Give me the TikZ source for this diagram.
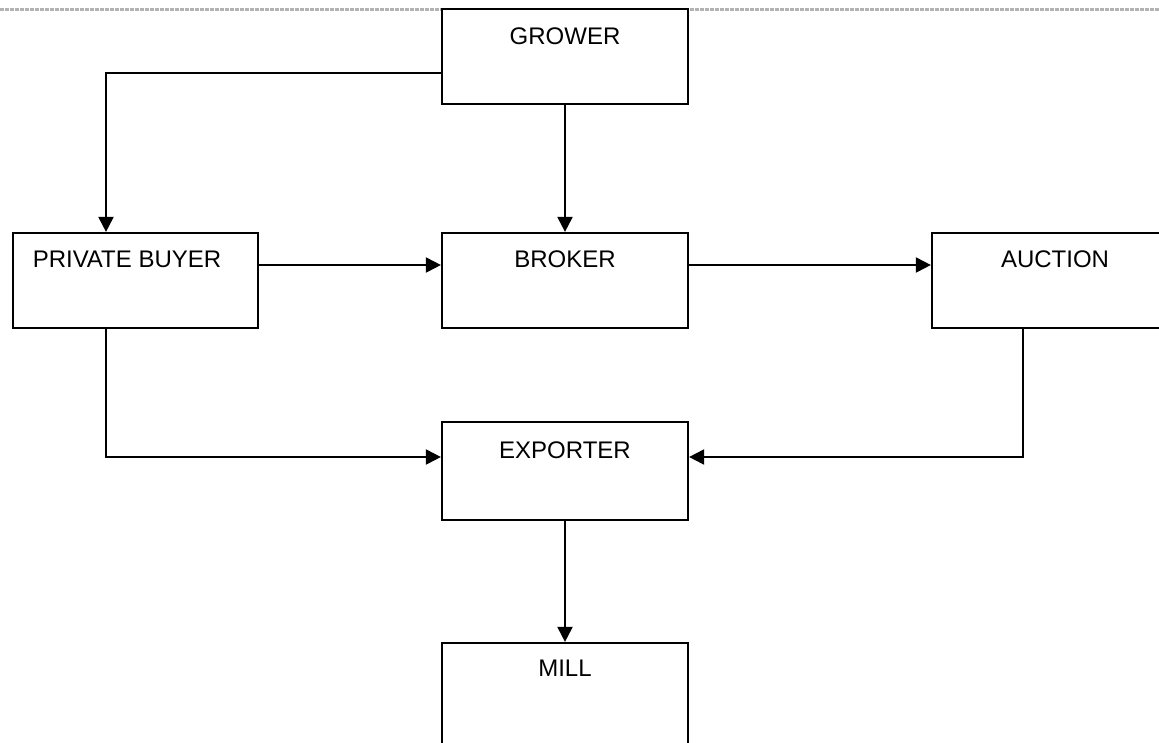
\documentclass[tikz,border=0pt]{standalone}
\usepackage{fontspec}
\setmainfont{Liberation Sans}
\usetikzlibrary{arrows.meta,calc}
\begin{document}
\begin{tikzpicture}[x=1pt,y=-1pt,
  box/.style={draw=black,line width=2.2pt,minimum width=246pt,minimum height=95pt,inner sep=0pt,fill=white},
  lbl/.style={font=\fontsize{24}{28}\selectfont,inner sep=0pt,anchor=center},
  conn/.style={draw=black,line width=2pt,-{Triangle[length=15pt,width=15pt]}}]
\useasboundingbox (0,0) rectangle (1159,742);
\clip (0,0) rectangle (1159,742);
\draw[gray!60,line width=2.2pt,dash pattern=on 3.5pt off 1.5pt] (0,9.5) -- (1159,9.5);
\node[box] (grower) at (565,56.5) {};
\node[box,minimum width=245pt] (pbuyer) at (135.5,280.5) {};
\node[box] (broker) at (565,280.5) {};
\node[box] (auction) at (1055,280.5) {};
\node[box,minimum height=98pt] (exporter) at (565,471) {};
\node[box,minimum height=110pt] (mill) at (565,698) {};
\node[lbl] (tg) at (565,36) {GROWER};
\node[lbl] (tp) at (127,259) {PRIVATE BUYER};
\node[lbl] (tb) at (565,259) {BROKER};
\node[lbl] (ta) at (1055,259) {AUCTION};
\node[lbl] (te) at (565,450) {EXPORTER};
\node[lbl] (tm) at (565,668) {MILL};
\coordinate (c1) at (106,73);
\coordinate (c2) at (106,457);
\coordinate (c3) at (1023,457);
\draw[conn] (grower.west |- c1) -| (pbuyer.north -| c1);
\draw[conn] (grower.south) -- (broker.north);
\draw[conn] ([yshift=15.5pt]pbuyer.east) -- ([yshift=15.5pt]broker.west);
\draw[conn] ([yshift=15.5pt]broker.east) -- ([yshift=15.5pt]auction.west);
\draw[conn] (pbuyer.south -| c2) |- (exporter.west |- c2);
\draw[conn] (auction.south -| c3) |- (exporter.east |- c3);
\draw[conn] (exporter.south) -- (mill.north);
\end{tikzpicture}
\end{document}
